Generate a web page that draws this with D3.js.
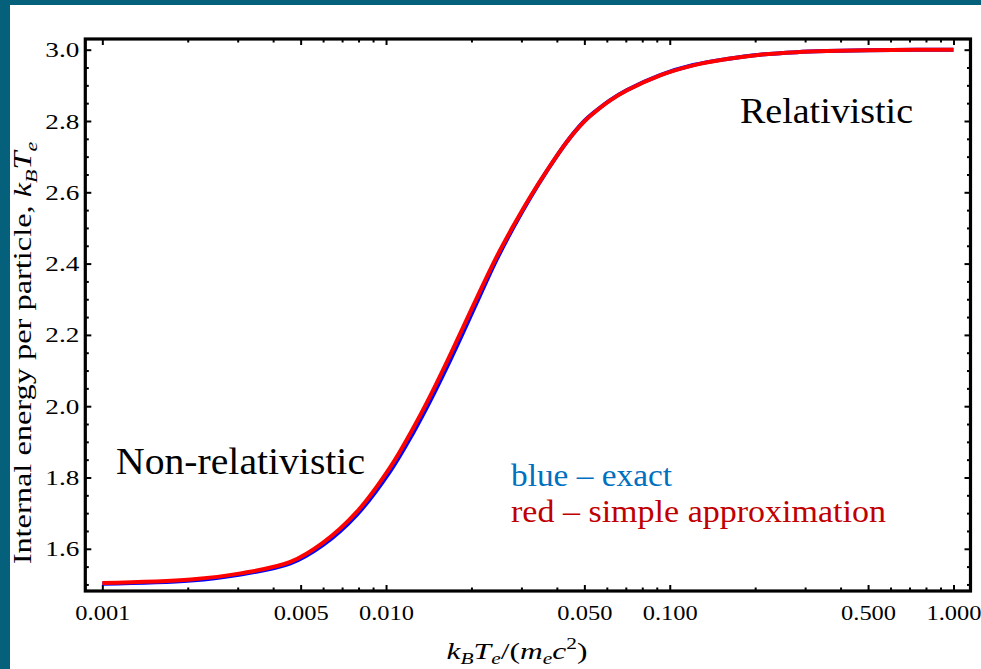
<!DOCTYPE html>
<html>
<head>
<meta charset="utf-8">
<script src="https://cdn.jsdelivr.net/npm/d3@7"></script>
<style>
  html, body { margin: 0; padding: 0; background: #ffffff; }
  svg { display: block; }
</style>
</head>
<body>
<svg id="chart" width="981" height="669"></svg>
<script>
// Temperature samples, k_B T_e / (m_e c^2)
const temps = [0.001, 0.00205, 0.00307, 0.0046, 0.006, 0.0079, 0.01035, 0.0125, 0.0143,
  0.0164, 0.0187, 0.0215, 0.0246, 0.0281, 0.0322, 0.0369, 0.0434, 0.05, 0.0537, 0.0615,
  0.0707, 0.0925, 0.121, 0.159, 0.208, 0.28, 0.358, 0.611, 1.0];

// Internal energy per particle in units of k_B T_e
const exactEnergy = [1.502, 1.511, 1.528, 1.559, 1.611, 1.696, 1.818, 1.927, 2.014,
  2.110, 2.207, 2.313, 2.413, 2.501, 2.584, 2.660, 2.742, 2.800, 2.822, 2.858,
  2.887, 2.929, 2.957, 2.974, 2.986, 2.993, 2.996, 2.999, 3.0];
const approxEnergy = [1.504, 1.514, 1.531, 1.563, 1.617, 1.704, 1.829, 1.940, 2.028,
  2.125, 2.222, 2.325, 2.421, 2.506, 2.587, 2.661, 2.742, 2.799, 2.821, 2.857,
  2.886, 2.928, 2.956, 2.974, 2.986, 2.993, 2.996, 2.999, 3.0];

// Axis ticks
const xMajorTicks = [0.001, 0.005, 0.01, 0.05, 0.1, 0.5, 1.0];
const xTickLabels = ["0.001", "0.005", "0.010", "0.050", "0.100", "0.500", "1.000"];
const yMajorTicks = [1.6, 1.8, 2.0, 2.2, 2.4, 2.6, 2.8, 3.0];
const yTickLabels = ["1.6", "1.8", "2.0", "2.2", "2.4", "2.6", "2.8", "3.0"];

const W = 981, H = 669;
const box = { left: 85.3, right: 970.5, top: 39, bottom: 591 };

const svg = d3.select("#chart");

// slide backdrop: teal border strip on the top and left
svg.append("rect").attr("x", 0).attr("y", 0).attr("width", W).attr("height", H).attr("fill", "#05607c");
svg.append("rect").attr("x", 10).attr("y", 5).attr("width", W - 10).attr("height", H - 5).attr("fill", "#ffffff");

const x = d3.scaleLog().domain([Math.pow(10, -3.06), Math.pow(10, 0.06)]).range([box.left, box.right]);
const y = d3.scaleLinear().domain([1.4816, 3.03]).range([box.bottom, box.top]);

// minor ticks: 2..9 within each decade, every 0.05 on the energy axis
const xMinor = [];
[0.001, 0.01, 0.1].forEach(d => { for (let k = 2; k <= 9; k++) if (k !== 5) xMinor.push(k * d); });
const yMinor = d3.range(30, 61).map(i => i / 20).filter(v => !yMajorTicks.some(m => Math.abs(m - v) < 1e-9));

const serif = "'Liberation Serif', 'Times New Roman', serif";

function styleAxis(g) {
  g.select(".domain").remove();
  g.selectAll(".tick line").attr("stroke", "#000").attr("stroke-width", 2);
}

const majorLen = 6, minorLen = 3.5;

// bottom axis with labels
const gB = svg.append("g").attr("transform", `translate(0,${box.bottom})`)
  .call(d3.axisBottom(x).tickValues(xMajorTicks).tickSize(-majorLen).tickPadding(13)
    .tickFormat((d, i) => xTickLabels[i]));
styleAxis(gB);
gB.selectAll(".tick text").attr("font-family", serif).attr("font-size", 22).attr("fill", "#000")
  .attr("textLength", 55).attr("lengthAdjust", "spacingAndGlyphs");
svg.append("g").attr("transform", `translate(0,${box.bottom})`)
  .call(d3.axisBottom(x).tickValues(xMinor).tickSize(-minorLen).tickFormat("")).call(styleAxis);

// top axis, ticks only
svg.append("g").attr("transform", `translate(0,${box.top})`)
  .call(d3.axisTop(x).tickValues(xMajorTicks).tickSize(-majorLen).tickFormat("")).call(styleAxis);
svg.append("g").attr("transform", `translate(0,${box.top})`)
  .call(d3.axisTop(x).tickValues(xMinor).tickSize(-minorLen).tickFormat("")).call(styleAxis);

// left axis with labels
const gL = svg.append("g").attr("transform", `translate(${box.left},0)`)
  .call(d3.axisLeft(y).tickValues(yMajorTicks).tickSize(-majorLen).tickPadding(6)
    .tickFormat((d, i) => yTickLabels[i]));
styleAxis(gL);
gL.selectAll(".tick text").attr("font-family", serif).attr("font-size", 22).attr("fill", "#000")
  .attr("textLength", 34).attr("lengthAdjust", "spacingAndGlyphs");
svg.append("g").attr("transform", `translate(${box.left},0)`)
  .call(d3.axisLeft(y).tickValues(yMinor).tickSize(-minorLen).tickFormat("")).call(styleAxis);

// right axis, ticks only
svg.append("g").attr("transform", `translate(${box.right},0)`)
  .call(d3.axisRight(y).tickValues(yMajorTicks).tickSize(-majorLen).tickFormat("")).call(styleAxis);
svg.append("g").attr("transform", `translate(${box.right},0)`)
  .call(d3.axisRight(y).tickValues(yMinor).tickSize(-minorLen).tickFormat("")).call(styleAxis);

// curves: exact (blue) underneath, approximation (red) on top
const line = vals => d3.line()
  .x((d, i) => x(temps[i]))
  .y(d => y(d))
  .curve(d3.curveCatmullRom.alpha(0.5))(vals);

svg.append("path").attr("d", line(exactEnergy)).attr("fill", "none")
  .attr("stroke", "#0000ff").attr("stroke-width", 4);
svg.append("path").attr("d", line(approxEnergy)).attr("fill", "none")
  .attr("stroke", "#ff0000").attr("stroke-width", 4);

// frame
svg.append("rect").attr("x", box.left).attr("y", box.top)
  .attr("width", box.right - box.left).attr("height", box.bottom - box.top)
  .attr("fill", "none").attr("stroke", "#000").attr("stroke-width", 3.2);

// axis titles (math-style italic variables with sub/superscripts)
function addParts(textSel, parts, size) {
  parts.forEach(p => {
    textSel.append("tspan")
      .attr("font-style", p.it ? "italic" : "normal")
      .attr("font-size", p.small ? size * 0.68 : size)
      .attr("dy", p.dy || 0)
      .text(p.t);
  });
}

function fitWidth(sel, cx, cy, target, rotate, stretch) {
  const w = sel.node().getComputedTextLength();
  const s = target / w;
  if (rotate) sel.attr("transform", `translate(${cx},${cy}) rotate(-90) scale(${s},${stretch})`);
  else sel.attr("transform", `translate(${cx},${cy}) scale(${s},${stretch})`);
}

const xTitle = svg.append("text").attr("font-family", serif).attr("text-anchor", "middle").attr("fill", "#000");
addParts(xTitle, [
  { t: "k", it: true }, { t: "B", it: true, small: true, dy: 5 },
  { t: "T", it: true, dy: -5 }, { t: "e", it: true, small: true, dy: 5 },
  { t: "/(", dy: -5 }, { t: "m", it: true }, { t: "e", it: true, small: true, dy: 5 },
  { t: "c", it: true, dy: -5 }, { t: "2", small: true, dy: -10 }, { t: ")", dy: 10 }
], 24);
fitWidth(xTitle, 517, 659, 141, false, 1);

const yTitle = svg.append("text").attr("font-family", serif).attr("text-anchor", "middle").attr("fill", "#000");
addParts(yTitle, [
  { t: "Internal energy per particle, " },
  { t: "k", it: true }, { t: "B", it: true, small: true, dy: 5 },
  { t: "T", it: true, dy: -5 }, { t: "e", it: true, small: true, dy: 5 }
], 22);
fitWidth(yTitle, 31, 353, 423, true, 1.15);

// region annotations and colour key
function note(txt, xPos, yPos, size, len, color) {
  svg.append("text").attr("x", xPos).attr("y", yPos)
    .attr("font-family", serif).attr("font-size", size).attr("fill", color)
    .attr("textLength", len).attr("lengthAdjust", "spacingAndGlyphs")
    .text(txt);
}
note("Relativistic", 740, 123, 35, 173, "#000");
note("Non-relativistic", 116, 474, 37, 249, "#000");
note("blue \u2013 exact", 511, 486, 31, 161, "#0070c0");
note("red \u2013 simple approximation", 511, 522, 31, 375, "#c00000");
</script>
</body>
</html>
